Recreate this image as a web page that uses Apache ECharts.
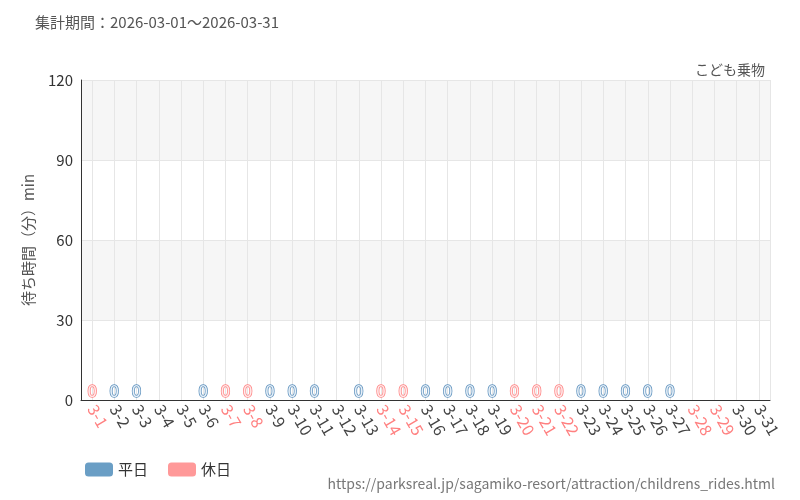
<!DOCTYPE html>
<html><head><meta charset="utf-8">
<script src="https://cdn.jsdelivr.net/npm/echarts@6/dist/echarts.min.js"></script>
<style>body{margin:0}#chart{width:800px;height:500px}</style></head>
<body><div id="chart"></div>
<script>
const days = [];
for (let d = 1; d <= 31; d++) days.push("3-" + d);
const holidays = [1, 7, 8, 14, 15, 20, 21, 22, 28, 29];
const weekdayWait = [null,0,0,null,null,0,null,null,0,0,0,null,0,null,null,0,0,0,0,null,null,null,0,0,0,0,0,null,null,null,null];
const holidayWait = [0,null,null,null,null,null,0,0,null,null,null,null,null,0,0,null,null,null,null,0,0,0,null,null,null,null,null,null,null,null,null];
const halfSlots = [];
for (let i = 0; i < days.length * 2; i++) halfSlots.push(i);

const myChart = echarts.init(document.getElementById("chart"));
const font = "'Noto Sans CJK JP', sans-serif";
const label = (fill, edge) => ({
    show: true, position: "top", color: fill, fontSize: 17, fontFamily: font,
    textBorderColor: edge, textBorderWidth: 1.5, distance: 1
});
myChart.setOption({
    textStyle: {fontFamily: font},
    title: [{
        text: "集計期間：2026-03-01～2026-03-31", left: 30, top: 10,
        textStyle: {fontSize: 15, fontWeight: "normal", color: "#555"}
    }, {
        text: "こども乗物", right: 30, top: 58,
        textStyle: {fontSize: 14, fontWeight: "normal", color: "#555"}
    }, {
        text: "https://parksreal.jp/sagamiko-resort/attraction/childrens_rides.html", right: 20, top: 472,
        textStyle: {fontSize: 14, fontWeight: "normal", color: "#777"}
    }],
    legend: {
        left: 80, top: 457, itemWidth: 28, itemHeight: 14, itemGap: 20,
        textStyle: {fontSize: 15, color: "#333"}
    },
    grid: {left: 81, right: 30, top: 80, bottom: 100},
    xAxis: [{
        type: "category", data: days,
        axisLine: {lineStyle: {color: "#333"}},
        axisTick: {alignWithLabel: true, lineStyle: {color: "#333"}},
        splitLine: {show: false},
        axisLabel: {
            interval: 0, rotate: -60, fontSize: 16, margin: 6,
            color: (v, i) => holidays.includes(i + 1) ? "#ff8080" : "#444"
        }
    }, {
        type: "category", data: halfSlots, position: "bottom",
        axisLine: {show: false}, axisTick: {show: false}, axisLabel: {show: false},
        splitLine: {show: true, interval: i => i % 2 === 1, lineStyle: {color: "#e6e6e6"}}
    }],
    yAxis: {
        type: "value", min: 0, max: 120, interval: 30,
        name: "待ち時間（分）min", nameLocation: "middle", nameGap: 45,
        nameTextStyle: {fontSize: 15, color: "#555"},
        axisLine: {show: true, lineStyle: {color: "#333"}},
        axisLabel: {fontSize: 15, color: "#333"},
        splitLine: {lineStyle: {color: "#e6e6e6"}},
        splitArea: {show: true, areaStyle: {color: ["#fff", "#f6f6f6"]}}
    },
    series: [{
        name: "平日", type: "bar", stack: "a", data: weekdayWait, barWidth: "85%",
        itemStyle: {color: "#6a9ec5"}, label: label("#e8f0f8", "#5a8fbc")
    }, {
        name: "休日", type: "bar", stack: "a", data: holidayWait, barWidth: "85%",
        itemStyle: {color: "#ff9999"}, label: label("#ffeaea", "#ff8080")
    }]
});
</script></body></html>
